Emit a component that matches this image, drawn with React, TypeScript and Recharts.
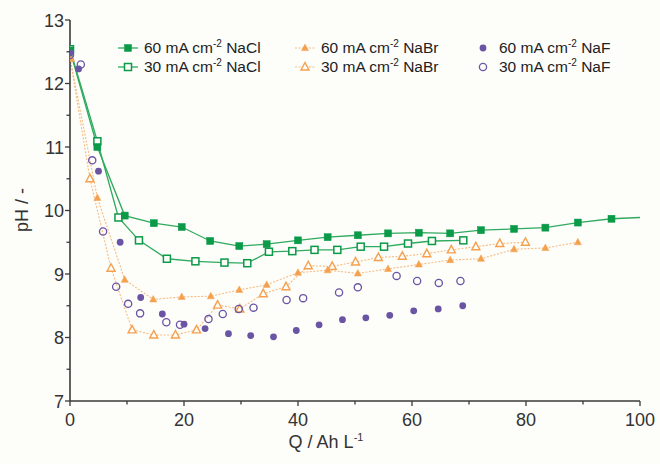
import { ComposedChart, Line, Scatter, XAxis, YAxis } from 'recharts';

// pH vs charge passed
const qNaCl60 = [0, 4.8, 9.6, 14.7, 19.6, 24.6, 29.7, 34.5, 40, 45.2, 50.5, 55.8, 61.2, 66.7, 72.1, 77.9, 83.4, 89.1, 95, 100];
const phNaCl60 = [12.52, 11.0, 9.92, 9.8, 9.74, 9.52, 9.44, 9.47, 9.53, 9.58, 9.61, 9.64, 9.65, 9.64, 9.69, 9.71, 9.73, 9.81, 9.87, 9.89];

const qNaCl30 = [0, 4.8, 8.5, 12.1, 17, 22, 27.1, 31.1, 34.9, 39, 42.9, 46.9, 51, 55.1, 59.3, 63.5, 69];
const phNaCl30 = [12.54, 11.09, 9.89, 9.53, 9.24, 9.2, 9.18, 9.17, 9.35, 9.36, 9.38, 9.38, 9.43, 9.43, 9.48, 9.52, 9.53];

const qNaBr60 = [0, 4.8, 9.6, 14.6, 19.6, 24.7, 29.7, 34.5, 40, 45.2, 50.5, 55.8, 61.2, 66.7, 72.1, 77.9, 83.4, 89.1];
const phNaBr60 = [12.4, 10.2, 8.91, 8.6, 8.64, 8.65, 8.75, 8.83, 9.02, 9.06, 9.01, 9.08, 9.15, 9.22, 9.24, 9.39, 9.41, 9.5];

const qNaBr30 = [0, 3.5, 7.2, 10.9, 14.7, 18.5, 22.2, 25.9, 29.8, 33.9, 37.9, 41.8, 46, 50.1, 54.1, 58.3, 62.6, 66.9, 71.2, 75.4, 79.9];
const phNaBr30 = [12.4, 10.5, 9.09, 8.12, 8.04, 8.04, 8.12, 8.51, 8.45, 8.69, 8.8, 9.13, 9.12, 9.19, 9.26, 9.28, 9.32, 9.38, 9.43, 9.48, 9.5];

const qNaF60 = [0, 1.5, 5, 8.8, 12.4, 16.2, 20, 23.7, 27.8, 31.7, 35.7, 39.7, 43.7, 47.8, 51.9, 56.1, 60.3, 64.6, 68.9];
const phNaF60 = [12.48, 12.23, 10.62, 9.5, 8.63, 8.37, 8.21, 8.14, 8.06, 8.03, 8.01, 8.11, 8.2, 8.28, 8.31, 8.35, 8.42, 8.45, 8.5];

const qNaF30 = [0, 1.9, 3.9, 5.8, 8.1, 10.2, 12.3, 16.9, 19.3, 24.3, 26.8, 29.6, 32.2, 38, 40.9, 47.2, 50.5, 57.3, 60.9, 64.7, 68.5];
const phNaF30 = [12.45, 12.3, 10.79, 9.67, 8.8, 8.53, 8.38, 8.24, 8.2, 8.29, 8.37, 8.45, 8.47, 8.59, 8.62, 8.71, 8.79, 8.97, 8.89, 8.86, 8.89];

const xTicks = [0, 10, 20, 30, 40, 50, 60, 70, 80, 90, 100];
const yTicks = [7, 7.5, 8, 8.5, 9, 9.5, 10, 10.5, 11, 11.5, 12, 12.5, 13];

const GREEN = '#0b9a48';
const GREEN_LINE = '#2faa5e';
const ORANGE = '#f5a04e';
const ORANGE_LINE = '#f7bb82';
const PURPLE = '#6a54a4';
const AXIS = '#3a3a3a';
const FONT = '"Liberation Sans", Arial, sans-serif';

const toPoints = (q: number[], ph: number[]) => q.map((x, i) => ({ x, y: ph[i] }));

const squareDot = (filled: boolean, skipIndex = -1) => (props: any) => {
  const { cx, cy, index } = props;
  if (cx == null || cy == null || index === skipIndex) return <g key={index} />;
  const s = 7;
  return (
    <rect
      key={index}
      x={cx - s / 2}
      y={cy - s / 2}
      width={s}
      height={s}
      fill={filled ? GREEN : '#fdfdfa'}
      stroke={GREEN}
      strokeWidth={filled ? 0.5 : 1.5}
    />
  );
};

const triangleDot = (filled: boolean) => (props: any) => {
  const { cx, cy, index } = props;
  if (cx == null || cy == null) return <g key={index} />;
  const w = filled ? 7 : 8;
  const h = filled ? 6.5 : 7.5;
  const pts = `${cx},${cy - h * 0.6} ${cx - w / 2},${cy + h * 0.4} ${cx + w / 2},${cy + h * 0.4}`;
  return (
    <polygon
      key={index}
      points={pts}
      fill={filled ? ORANGE : '#fdfdfa'}
      stroke={ORANGE}
      strokeWidth={filled ? 0.5 : 1.4}
    />
  );
};

const circleShape = (filled: boolean) => (props: any) => {
  const { cx, cy } = props;
  return filled ? (
    <circle cx={cx} cy={cy} r={3.4} fill={PURPLE} />
  ) : (
    <circle cx={cx} cy={cy} r={3.6} fill="none" stroke={PURPLE} strokeWidth={1.3} />
  );
};

const YTick = (props: any) => {
  const { x, y, payload } = props;
  const v = payload.value as number;
  const major = Number.isInteger(v);
  return (
    <g>
      <line x1={x - (major ? 5 : 3.5)} x2={x} y1={y} y2={y} stroke={AXIS} strokeWidth={1.3} />
      {major && (
        <text x={x - 6} y={y + 6.5} textAnchor="end" fontSize={18} fontFamily={FONT} fill="#333">
          {v}
        </text>
      )}
    </g>
  );
};

const XTick = (props: any) => {
  const { x, y, payload } = props;
  const v = payload.value as number;
  const major = v % 20 === 0;
  return (
    <g>
      <line x1={x} x2={x} y1={y} y2={y + (major ? 5 : 3.5)} stroke={AXIS} strokeWidth={1.3} />
      {major && (
        <text x={x} y={y + 25} textAnchor="middle" fontSize={18} fontFamily={FONT} fill="#333">
          {v}
        </text>
      )}
    </g>
  );
};

const legendItems = [
  { label: 'NaCl', cd: '60', col: 0, row: 0, kind: 'square', filled: true },
  { label: 'NaCl', cd: '30', col: 0, row: 1, kind: 'square', filled: false },
  { label: 'NaBr', cd: '60', col: 1, row: 0, kind: 'triangle', filled: true },
  { label: 'NaBr', cd: '30', col: 1, row: 1, kind: 'triangle', filled: false },
  { label: 'NaF', cd: '60', col: 2, row: 0, kind: 'circle', filled: true },
  { label: 'NaF', cd: '30', col: 2, row: 1, kind: 'circle', filled: false },
];
const legendCols = [128, 305, 483];
const legendRows = [48, 67];

function LegendMarker({ kind, filled }: { kind: string; filled: boolean }) {
  const cx = 10;
  const cy = 10;
  return (
    <svg width={20} height={20} style={{ display: 'block' }}>
      {kind === 'square' && (
        <>
          <line x1={0} x2={20} y1={cy} y2={cy} stroke={GREEN_LINE} strokeWidth={1.3} />
          {squareDot(filled)({ cx, cy, index: 0 })}
        </>
      )}
      {kind === 'triangle' && (
        <>
          <line x1={0} x2={20} y1={cy} y2={cy} stroke={ORANGE_LINE} strokeWidth={1.1} strokeDasharray="2 1.5" />
          {triangleDot(filled)({ cx, cy, index: 0 })}
        </>
      )}
      {kind === 'circle' && circleShape(filled)({ cx, cy })}
    </svg>
  );
}

export default function App() {
  return (
    <div
      style={{
        position: 'absolute',
        left: 0,
        top: 0,
        width: 660,
        height: 464,
        background: '#fdfdfa',
        fontFamily: FONT,
      }}
    >
      <ComposedChart width={660} height={464} margin={{ top: 20, right: 20, bottom: 0, left: 0 }}>
        <XAxis
          type="number"
          dataKey="x"
          domain={[0, 100]}
          ticks={xTicks}
          interval={0}
          tick={<XTick />}
          tickLine={false}
          tickSize={0}
          tickMargin={0}
          height={63}
          axisLine={{ stroke: AXIS, strokeWidth: 1.6 }}
          allowDataOverflow
        />
        <YAxis
          type="number"
          dataKey="y"
          domain={[7, 13]}
          ticks={yTicks}
          interval={0}
          tick={<YTick />}
          tickLine={false}
          tickSize={0}
          tickMargin={0}
          width={70}
          axisLine={{ stroke: AXIS, strokeWidth: 1.6 }}
          allowDataOverflow
        />
        <Line
          data={toPoints(qNaBr30, phNaBr30)}
          dataKey="y"
          stroke={ORANGE_LINE}
          strokeWidth={1.1}
          strokeDasharray="2 1.5"
          dot={triangleDot(false)}
          activeDot={false}
          isAnimationActive={false}
        />
        <Line
          data={toPoints(qNaBr60, phNaBr60)}
          dataKey="y"
          stroke={ORANGE_LINE}
          strokeWidth={1.1}
          strokeDasharray="2 1.5"
          dot={triangleDot(true)}
          activeDot={false}
          isAnimationActive={false}
        />
        <Line
          data={toPoints(qNaCl30, phNaCl30)}
          dataKey="y"
          stroke={GREEN_LINE}
          strokeWidth={1.3}
          dot={squareDot(false)}
          activeDot={false}
          isAnimationActive={false}
        />
        <Line
          data={toPoints(qNaCl60, phNaCl60)}
          dataKey="y"
          stroke={GREEN_LINE}
          strokeWidth={1.3}
          dot={squareDot(true, qNaCl60.length - 1)}
          activeDot={false}
          isAnimationActive={false}
        />
        <Scatter data={toPoints(qNaF30, phNaF30)} dataKey="y" shape={circleShape(false)} isAnimationActive={false} />
        <Scatter data={toPoints(qNaF60, phNaF60)} dataKey="y" shape={circleShape(true)} isAnimationActive={false} />
      </ComposedChart>

      {legendItems.map((it, i) => (
        <div
          key={i}
          style={{
            position: 'absolute',
            left: legendCols[it.col] - 10,
            top: legendRows[it.row] - 10,
            height: 20,
            display: 'flex',
            alignItems: 'center',
            whiteSpace: 'nowrap',
            fontSize: 15.5,
            color: '#222',
          }}
        >
          <LegendMarker kind={it.kind} filled={it.filled} />
          <span style={{ marginLeft: 6 }}>
            {it.cd} mA cm<sup style={{ fontSize: 10, verticalAlign: 0, position: 'relative', top: -6 }}>-2</sup> {it.label}
          </span>
        </div>
      ))}

      <div
        style={{
          position: 'absolute',
          left: 226,
          width: 200,
          top: 432,
          textAlign: 'center',
          fontSize: 18,
          color: '#333',
        }}
      >
        Q / Ah L<sup style={{ fontSize: 11, verticalAlign: 0, position: 'relative', top: -7 }}>-1</sup>
      </div>
      <div
        style={{
          position: 'absolute',
          left: 22,
          top: 210,
          transform: 'translate(-50%, -50%) rotate(-90deg)',
          fontSize: 18,
          color: '#333',
          whiteSpace: 'nowrap',
        }}
      >
        pH / -
      </div>
    </div>
  );
}
